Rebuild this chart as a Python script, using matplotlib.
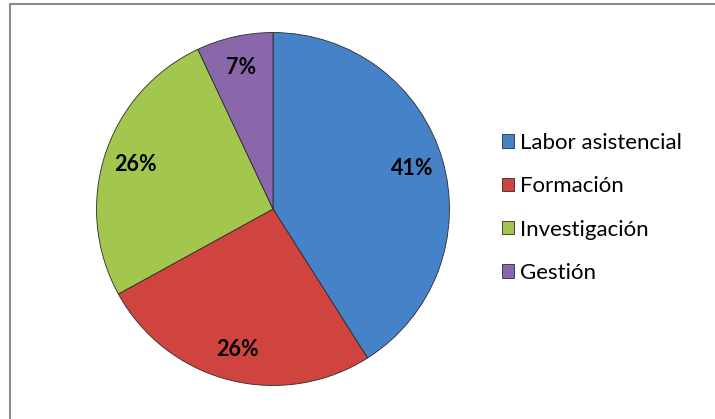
import matplotlib.pyplot as plt
from matplotlib.lines import Line2D

labels = ["Labor asistencial", "Formación", "Investigación", "Gestión"]
values = [41, 26, 26, 7]
colors = ["#4682C8", "#D04440", "#A2C64E", "#8A67AA"]

plt.rcParams["font.family"] = ["Lato", "DejaVu Sans"]

W, H = 715, 419
fig = plt.figure(figsize=(W / 100, H / 100), dpi=100)

# pie centred at (273, 209) px, radius 180 px
cx, cy, r = 273, 209, 180
ax = fig.add_axes([(cx - r) / W, (H - cy - r) / H, 2 * r / W, 2 * r / H])
wedges, texts, autotexts = ax.pie(
    values, colors=colors, startangle=90, counterclock=False,
    autopct="%1.0f%%", pctdistance=0.82, radius=1,
    wedgeprops=dict(edgecolor="#2b2b2b", linewidth=0.6),
    textprops=dict(fontsize=15.5, fontweight="bold", color="black"))
ax.set_xlim(-1.02, 1.02)
ax.set_ylim(-1.02, 1.02)
ax.set_aspect("equal")

leg = fig.legend(wedges, labels, loc="upper left",
                 bbox_to_anchor=(493 / W, 1 - 124 / H), frameon=False,
                 fontsize=16, handlelength=0.55, handleheight=0.55,
                 handletextpad=0.25, labelspacing=1.05, borderaxespad=0)

# chart frame (only top and left edges visible)
fig.add_artist(Line2D([9.5 / W, 1], [1 - 4.5 / H] * 2, color="#8c8c8c", lw=1.5))
fig.add_artist(Line2D([9.5 / W] * 2, [0, 1 - 4.5 / H], color="#8c8c8c", lw=1.5))

fig.savefig("out.png", dpi=100)
